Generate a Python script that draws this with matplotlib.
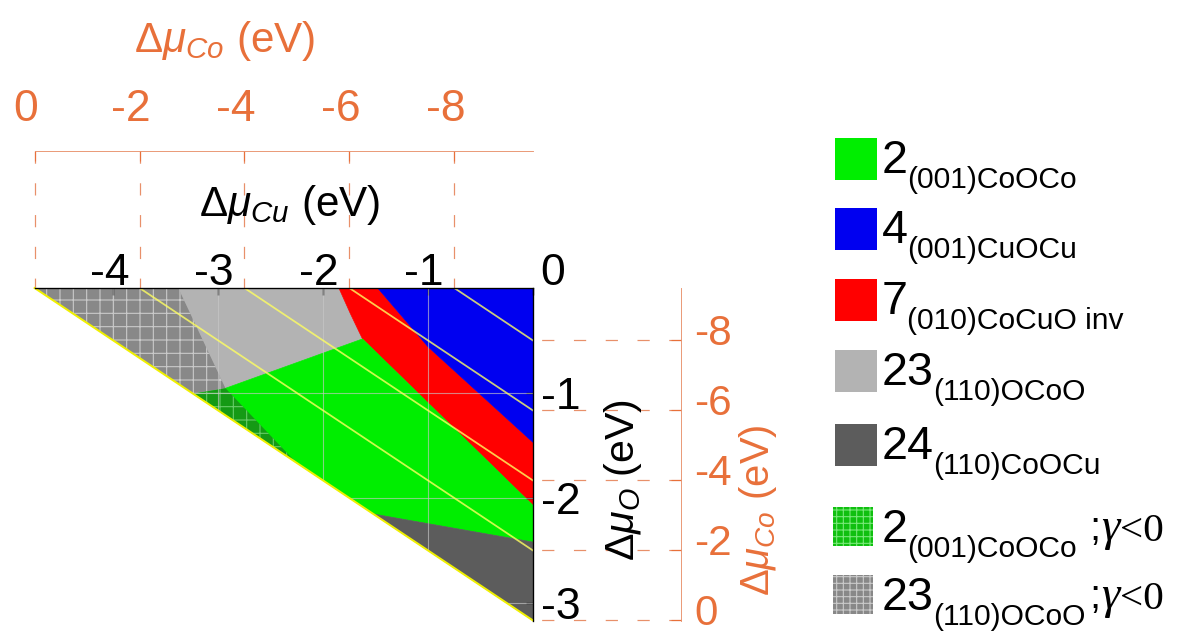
import matplotlib
matplotlib.use("Agg")
import matplotlib.pyplot as plt
import matplotlib.transforms as mtransforms
from matplotlib.patches import Polygon, Rectangle

plt.rcParams['font.family'] = ['Liberation Sans', 'DejaVu Sans']
plt.rcParams['mathtext.fontset'] = 'custom'
plt.rcParams['mathtext.rm'] = 'Liberation Sans'
plt.rcParams['mathtext.it'] = 'Liberation Sans:italic'
plt.rcParams['axes.unicode_minus'] = False
plt.rcParams['hatch.linewidth'] = 1.0

# ---------------- data ----------------
H_F = -9.5                      # Δμ_Co = H_F - 2 Δμ_Cu - 3 Δμ_O
cu_min = -4.75
o_min = -3.1667
cu_ticks = [-4, -3, -2, -1, 0]
o_ticks = [-1, -2, -3]
co_ticks = [0, -2, -4, -6, -8]
co_lines = [-2, -4, -6, -8]

# phase regions (Δμ_Cu, Δμ_O)
reg_23_neg = [(-4.75, 0.0), (-3.38, 0.0), (-2.93, -0.955), (-3.24, -1.007)]
reg_23 = [(-3.38, 0.0), (-1.85, 0.0), (-1.74, -0.245), (-1.625, -0.485), (-2.93, -0.955)]
reg_7 = [(-1.85, 0.0), (-1.48, 0.0), (-1.0, -0.56), (0.0, -1.47), (0.0, -2.07),
         (-1.625, -0.485), (-1.74, -0.245)]
reg_4 = [(-1.48, 0.0), (0.0, 0.0), (0.0, -1.47), (-1.0, -0.56)]
reg_2 = [(-2.93, -0.955), (-1.625, -0.485), (0.0, -2.07), (0.0, -2.42),
         (-1.52, -2.153), (-3.24, -1.007)]
reg_2_neg = [(-3.24, -1.007), (-2.93, -0.955), (-2.26, -1.66)]
reg_24 = [(-1.52, -2.153), (0.0, -2.42), (0.0, -3.1667)]

leg_num = ['2', '4', '7', '23', '24', '2', '23']
leg_sub = ['(001)CoOCo', '(001)CuOCu', '(010)CoCuO inv', '(110)OCoO',
           '(110)CoOCu', '(001)CoOCo', '(110)OCoO']
leg_neg = [False, False, False, False, False, True, True]

# ---------------- styles ----------------
C_GREEN = '#00ee00'
C_BLUE = '#0000f0'
C_RED = '#ff0000'
C_LGRAY = '#b3b3b3'
C_DGRAY = '#5c5c5c'
C_HGRAY, C_HGRAY_L = '#888888', '#cacaca'
C_HGREEN, C_HGREEN_L = '#159a15', '#68cc68'
C_HGREEN_LEG, C_HGREEN_LEG_L = '#10c010', '#78e878'
ORANGE = '#e8703a'
ORANGE_L = '#e8906a'
YELLOW = '#f0f000'

W, Hpx = 1192, 632
fig = plt.figure(figsize=(W / 80, Hpx / 80), dpi=80)

# main axes in pixel geometry
x0, x1, ytop, ybot = 34.6, 533.0, 288.0, 620.5
ax = fig.add_axes([x0 / W, (Hpx - ybot) / Hpx, (x1 - x0) / W, (ybot - ytop) / Hpx])
ax.set_xlim(cu_min, 0)
ax.set_ylim(o_min, 0)
ax.patch.set_visible(False)

def add_region(verts, fc, hatch=None, hc=None):
    if hatch is None:
        p = Polygon(verts, closed=True, facecolor=fc, edgecolor=fc, lw=0.6, zorder=1)
    else:
        p = Polygon(verts, closed=True, facecolor=fc, edgecolor=hc, lw=0, hatch=hatch, zorder=1.5)
    ax.add_patch(p)

add_region(reg_23, C_LGRAY)
add_region(reg_7, C_RED)
add_region(reg_4, C_BLUE)
add_region(reg_2, C_GREEN)
add_region(reg_24, C_DGRAY)
add_region(reg_23_neg, C_HGRAY, '+', C_HGRAY_L)
add_region(reg_2_neg, C_HGREEN, '+', C_HGREEN_L)

tri = Polygon([(cu_min, 0), (0, 0), (0, o_min)], closed=True, transform=ax.transData,
              facecolor='none', edgecolor='none')
ax.add_patch(tri)

# grid lines clipped to the triangle
for xv in cu_ticks[:-1]:
    ln, = ax.plot([xv, xv], [o_min, 0], color='#c8c8c8', lw=1.0, alpha=0.65, zorder=2)
    ln.set_clip_path(tri)
for yv in o_ticks:
    ln, = ax.plot([cu_min, 0], [yv, yv], color='#c8c8c8', lw=1.0, alpha=0.65, zorder=2)
    ln.set_clip_path(tri)

# iso-Δμ_Co lines
for c in co_lines:
    xa = (H_F - c) / 2.0
    yb = (H_F - c) / 3.0
    ax.plot([xa, 0], [0, yb], color='#ffff60', lw=1.6, alpha=0.8, zorder=3)
ax.plot([H_F / 2.0, 0], [0, H_F / 3.0], color=YELLOW, lw=1.8, zorder=3, clip_on=False)

# spines / ticks
for s in ['left', 'bottom']:
    ax.spines[s].set_visible(False)
for s in ['top', 'right']:
    ax.spines[s].set_color('black')
    ax.spines[s].set_linewidth(1.2)
    ax.spines[s].set_zorder(4)
ax.xaxis.tick_top()
ax.yaxis.tick_right()
ax.set_xticks(cu_ticks)
ax.set_yticks(o_ticks)
ax.tick_params(direction='in', length=6, width=1.2, colors='black', labelsize=40)
ax.tick_params(axis='x', pad=-5)
ax.tick_params(axis='y', pad=7)

def shift(label, dx_px, dy_px):
    label.set_transform(label.get_transform() +
                        mtransforms.ScaledTranslation(dx_px / 80, dy_px / 80, fig.dpi_scale_trans))

xticks_objs = ax.xaxis.get_major_ticks()
for i, tk in enumerate(xticks_objs):
    if i == len(xticks_objs) - 1:
        shift(tk.label2, 20, 0)
    else:
        shift(tk.label2, -4, 0)

ax.set_xlabel(r'$\mathit{Δμ}_{\mathit{Cu}}$ (eV)', fontsize=38)
ax.xaxis.set_label_position('top')
ax.xaxis.set_label_coords(0.512, 1.25)
ax.xaxis.label.set_va('center')
ax.set_ylabel(r'$\mathit{Δμ}_{\mathit{O}}$ (eV)', fontsize=37, rotation=90)
ax.yaxis.set_label_position('right')
ax.yaxis.set_label_coords(1.1806, 0.4226)
ax.yaxis.label.set_va('center')
ax.yaxis.label.set_ha('center')

# secondary orange Δμ_Co axes
top_loc = 1.412
right_loc = 1.297
secx = ax.secondary_xaxis(top_loc, functions=(lambda x: H_F - 2 * x, lambda c: (H_F - c) / 2.0))
secx.set_xticks(co_ticks)
secx.tick_params(direction='in', length=9, width=1, colors=ORANGE, labelsize=40, pad=19)
for sp in secx.spines.values():
    sp.set_color(ORANGE_L)
secy = ax.secondary_yaxis(right_loc, functions=(lambda y: H_F - 3 * y, lambda c: (H_F - c) / 3.0))
secy.set_yticks(co_ticks)
secy.tick_params(direction='in', length=9, width=1, colors=ORANGE, labelsize=38, pad=12)
for sp in secy.spines.values():
    sp.set_color(ORANGE_L)

for tk in secx.xaxis.get_major_ticks():
    if tk.get_loc() == 0:
        shift(tk.label2, -9, 0)
for tk in secy.yaxis.get_major_ticks():
    if tk.get_loc() == 0:
        shift(tk.label2, 0, 11)

tx = mtransforms.blended_transform_factory(ax.transData, ax.transAxes)
ty = mtransforms.blended_transform_factory(ax.transAxes, ax.transData)
for c in co_ticks:
    xa = (H_F - c) / 2.0
    ax.plot([xa, xa], [top_loc, 1.0], transform=tx, clip_on=False, color=ORANGE_L,
            lw=1.1, ls=(0, (10, 16)), zorder=0)
    yb = (H_F - c) / 3.0
    ax.plot([right_loc, 1.0], [yb, yb], transform=ty, clip_on=False, color=ORANGE_L,
            lw=1.1, ls=(0, (10, 16)), zorder=0)

ax.text(0.382, 1.743, r'$\mathit{Δμ}_{\mathit{Co}}$ (eV)', transform=ax.transAxes,
        color=ORANGE, fontsize=38, ha='center', va='center')
ax.text(1.452, 0.3323, r'$\mathit{Δμ}_{\mathit{Co}}$ (eV)', transform=ax.transAxes,
        color=ORANGE, fontsize=36, ha='center', va='center', rotation=90)

# ---------------- legend (pixel coordinates) ----------------
lax = fig.add_axes([0, 0, 1, 1])
lax.set_xlim(0, W)
lax.set_ylim(Hpx, 0)
lax.axis('off')

row_tops = [138, 208, 279, 350, 424, 507, 575]
leg_fc = [C_GREEN, C_BLUE, C_RED, C_LGRAY, C_DGRAY, C_HGREEN_LEG, C_HGRAY]
leg_hc = [None, None, None, None, None, C_HGREEN_LEG_L, C_HGRAY_L]
for i, top in enumerate(row_tops):
    if leg_hc[i] is None:
        lax.add_patch(Rectangle((835, top), 42, 42, facecolor=leg_fc[i], edgecolor='none'))
    else:
        lax.add_patch(Rectangle((833, top), 40, 39, facecolor=leg_fc[i], edgecolor=leg_hc[i],
                                lw=0, hatch='++'))
    t = lax.text(882, top + 35, leg_num[i], fontsize=42, ha='left', va='baseline')
    s = lax.annotate(leg_sub[i], xy=(1, 0), xycoords=t, xytext=(-1, -5),
                     textcoords='offset pixels', fontsize=27, ha='left', va='baseline')
    if leg_neg[i]:
        lax.text(1089, top + 33, ';', fontsize=36, ha='left', va='baseline')
        g = lax.text(1101, top + 33, 'γ', fontsize=42, ha='left', va='baseline',
                     family='Liberation Serif', style='italic')
        lax.annotate('<0', xy=(1, 0), xycoords=g, xytext=(1, 9), textcoords='offset pixels',
                     fontsize=37, ha='left', va='baseline', family='Liberation Serif')

fig.savefig('out.png', dpi=80)
